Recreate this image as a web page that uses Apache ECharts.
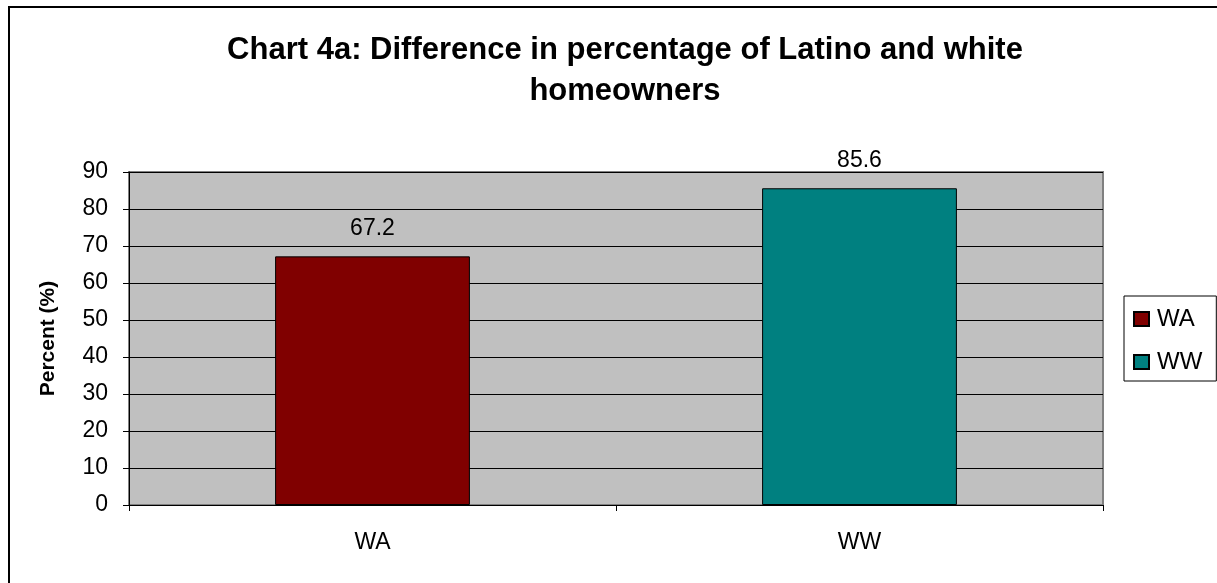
<!DOCTYPE html>
<html>
<head>
<meta charset="utf-8">
<script src="https://cdn.jsdelivr.net/npm/echarts@6/dist/echarts.min.js"></script>
<style>
html,body{margin:0;padding:0;background:#fff;}
#main{width:1217px;height:583px;}
</style>
</head>
<body>
<div id="main"></div>
<script>
const titleLines = ['Chart 4a: Difference in percentage of Latino and white', 'homeowners'];
const categories = ['WA', 'WW'];
const seriesNames = ['WA', 'WW'];
const values = [67.2, 85.6];
const colors = ['#800000', '#008080'];
const yTicks = { min: 0, max: 90, interval: 10 };

const FONT = '"Liberation Sans", Arial, sans-serif';
const chart = echarts.init(document.getElementById('main'), null, { renderer: 'canvas' });

const series = seriesNames.map((name, i) => ({
  name: name,
  type: 'bar',
  barWidth: '40%',
  barGap: '-100%',
  data: categories.map((c, j) => (j === i ? values[i] : '-')),
  itemStyle: { color: colors[i], borderColor: '#000', borderWidth: 1 },
  label: {
    show: true,
    position: 'top',
    distance: 16,
    color: '#000',
    fontSize: 23,
    fontFamily: FONT,
    formatter: p => p.value.toFixed(1)
  }
}));

chart.setOption({
  animation: false,
  backgroundColor: '#fff',
  graphic: [{
    type: 'rect',
    shape: { x: 9, y: 7, width: 1240, height: 620 },
    style: { fill: 'none', stroke: '#000', lineWidth: 2 },
    z: 100
  }],
  title: {
    text: titleLines.join('\n'),
    left: 620,
    top: 25,
    textAlign: 'center',
    textStyle: { fontFamily: FONT, fontWeight: 'bold', fontSize: 31, color: '#000', lineHeight: 41 }
  },
  legend: {
    data: seriesNames,
    orient: 'vertical',
    left: 1124,
    top: 296,
    backgroundColor: '#fff',
    borderColor: '#000',
    borderWidth: 1,
    padding: [11, 14, 7, 9],
    itemGap: 19,
    itemWidth: 15,
    itemHeight: 14,
    icon: 'rect',
    textStyle: { fontFamily: FONT, fontSize: 24, color: '#000', padding: [0, 0, 0, 3] }
  },
  grid: {
    left: 129, top: 172, right: 114, bottom: 78,
    show: true, backgroundColor: '#C0C0C0', borderColor: '#808080', borderWidth: 2
  },
  xAxis: {
    type: 'category',
    data: categories,
    axisLine: { lineStyle: { color: '#000', width: 1 } },
    axisTick: { show: true, length: 6, lineStyle: { color: '#000' } },
    axisLabel: { color: '#000', fontFamily: FONT, fontSize: 23, margin: 26 }
  },
  yAxis: {
    type: 'value',
    min: yTicks.min, max: yTicks.max, interval: yTicks.interval,
    name: 'Percent (%)',
    nameLocation: 'middle',
    nameGap: 70,
    nameTextStyle: { fontFamily: FONT, fontWeight: 'bold', fontSize: 21, color: '#000' },
    axisLine: { show: true, lineStyle: { color: '#000', width: 1 } },
    axisTick: { show: true, length: 6, lineStyle: { color: '#000' } },
    axisLabel: { color: '#000', fontFamily: FONT, fontSize: 23, margin: 21 },
    splitLine: { show: true, lineStyle: { color: '#000', width: 1 } }
  },
  series: series
});
</script>
</body>
</html>
